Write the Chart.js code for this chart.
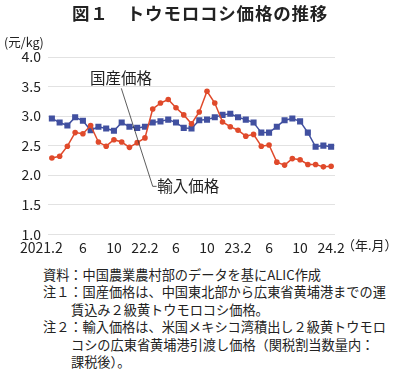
<!DOCTYPE html>
<html>
<head>
<meta charset="utf-8">
<script src="https://cdn.jsdelivr.net/npm/chart.js@4"></script>
<style>
  body { margin: 0; width: 400px; height: 369px; background: #fff; position: relative;
         font-family: 'Noto Sans CJK JP', sans-serif; color: #222; overflow: hidden; }
  #title { position: absolute; top: 0px; left: 0; width: 400px; text-align: center;
           font-size: 17.5px; font-weight: bold; letter-spacing: 0.8px; }
  #unit { position: absolute; top: 32px; left: 4px; font-size: 12.5px; }
  #wrap { position: absolute; top: 0; left: 0; }
  #notes { position: absolute; top: 266px; left: 43px; font-size: 13.2px; line-height: 17.4px;
           white-space: nowrap; }
  .cont { padding-left: 28px; }
</style>
</head>
<body>
<div id="wrap"><canvas id="chart" width="400" height="257"></canvas></div>
<div id="title">図１　トウモロコシ価格の推移</div>
<div id="unit">(元/kg)</div>
<div id="notes">
  <div>資料：中国農業農村部のデータを基にALIC作成</div>
  <div>注１：国産価格は、中国東北部から広東省黄埔港までの運</div>
  <div class="cont">賃込み２級黄トウモロコシ価格。</div>
  <div>注２：輸入価格は、米国メキシコ湾積出し２級黄トウモロ</div>
  <div class="cont">コシの広東省黄埔港引渡し価格（関税割当数量内：</div>
  <div class="cont">課税後）。</div>
</div>
<script>
'use strict';

const canvasElem = document.getElementById('chart');

// months 2021.2 .. 2024.2 (first label padded so it sits a little left, like the original)
const months = [
  '2021.2\u2003\u2002', '', '', '', '6', '', '', '', '10', '', '', '',
  '22.2', '', '', '', '6', '', '', '', '10', '', '', '',
  '23.2', '', '', '', '6', '', '', '', '10', '', '', '',
  '24.2'
];

const domesticPrice = [
  2.96, 2.89, 2.84, 2.98, 2.92, 2.76, 2.82, 2.79, 2.75, 2.89, 2.82, 2.80,
  2.82, 2.89, 2.91, 2.94, 2.89, 2.80, 2.79, 2.93, 2.94, 2.98, 3.02, 3.04,
  2.98, 2.94, 2.89, 2.72, 2.72, 2.82, 2.93, 2.96, 2.91, 2.72, 2.48, 2.50,
  2.48
];

const importPrice = [
  2.29, 2.32, 2.49, 2.72, 2.70, 2.84, 2.56, 2.49, 2.60, 2.56, 2.47, 2.55,
  2.63, 3.12, 3.22, 3.28, 3.14, 3.02, 2.87, 3.07, 3.42, 3.22, 2.90, 2.82,
  2.76, 2.66, 2.69, 2.49, 2.51, 2.22, 2.17, 2.28, 2.26, 2.18, 2.18, 2.14,
  2.15
];

const yTicks = [1.0, 1.5, 2.0, 2.5, 3.0, 3.5, 4.0];

const textFont = "'Noto Sans CJK JP', sans-serif";

// leader line and series labels
const labelPlugin = {
  id: 'labels',
  afterDatasetsDraw(chart) {
    const ctx = chart.ctx;
    const x = chart.scales.x;
    const y = chart.scales.y;
    const area = chart.chartArea;
    ctx.save();
    ctx.strokeStyle = '#333';
    ctx.lineWidth = 0.8;
    ctx.beginPath();
    ctx.moveTo(x.getPixelForValue(8.95), y.getPixelForValue(3.47));
    ctx.lineTo(x.getPixelForValue(13.0), y.getPixelForValue(1.81));
    ctx.lineTo(x.getPixelForValue(13.5), y.getPixelForValue(1.81));
    ctx.stroke();

    ctx.fillStyle = '#222';
    ctx.font = '15.5px ' + textFont;
    ctx.textBaseline = 'middle';
    ctx.textAlign = 'center';
    ctx.fillText('国産価格', x.getPixelForValue(8.9), y.getPixelForValue(3.64));
    ctx.textAlign = 'left';
    ctx.fillText('輸入価格', x.getPixelForValue(13.6), y.getPixelForValue(1.81));

    ctx.font = '13px ' + textFont;
    ctx.fillText('（年.月）', area.right + 7, area.bottom + 11);
    ctx.restore();
  }
};

function renderChart() {
  const data = {
    labels: months,
    datasets: [
      {
        label: '輸入価格',
        data: importPrice,
        borderColor: '#E04A2B',
        backgroundColor: '#E04A2B',
        borderWidth: 1.5,
        pointStyle: 'circle',
        pointRadius: 2.8,
        pointBorderWidth: 0,
      },
      {
        label: '国産価格',
        data: domesticPrice,
        borderColor: '#4150A0',
        backgroundColor: '#4150A0',
        borderWidth: 1.5,
        pointStyle: 'rect',
        pointRadius: 4.3,
        pointBorderWidth: 0,
      },
    ],
  };

  const config = {
    type: 'line',
    data: data,
    options: {
      responsive: false,
      animation: false,
      layout: { padding: { top: 57, left: 0, right: 65, bottom: 4 } },
      plugins: {
        legend: { display: false },
        tooltip: { enabled: false },
      },
      scales: {
        x: {
          type: 'category',
          offset: true,
          grid: { display: false },
          border: { display: false },
          ticks: {
            autoSkip: false,
            maxRotation: 0,
            padding: -3,
            color: '#222',
            font: { family: textFont, size: 14 },
          },
        },
        y: {
          min: yTicks[0],
          max: yTicks[yTicks.length - 1],
          afterBuildTicks: (s) => { s.ticks = yTicks.map(v => ({ value: v })); },
          afterFit: (s) => { s.width = 48; },
          grid: { color: '#e2e2e2', drawTicks: false },
          border: { display: false },
          ticks: {
            padding: 7,
            color: '#222',
            font: { family: textFont, size: 14 },
            callback: (v) => Number(v).toFixed(1),
          },
        },
      },
    },
    plugins: [labelPlugin],
  };

  const myChart = new Chart(canvasElem, config);
}
renderChart();
</script>
</body>
</html>
